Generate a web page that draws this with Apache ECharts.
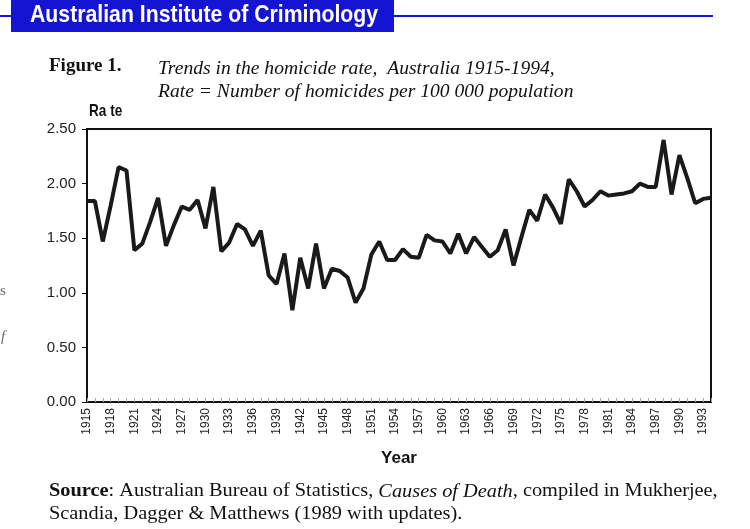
<!DOCTYPE html>
<html>
<head>
<meta charset="utf-8">
<script src="https://cdn.jsdelivr.net/npm/echarts@6/dist/echarts.min.js"></script>
<style>
html, body { margin: 0; padding: 0; background: #fff; }
#chart { width: 750px; height: 529px; }
</style>
</head>
<body>
<div id="chart"></div>
<script>
// years 1915 - 1994
var years = [];
for (var y = 1915; y <= 1994; y++) years.push(String(y));

// homicide rate per 100 000 population
var rates = [
    1.84, 1.84, 1.47, 1.80, 2.15, 2.12, 1.39, 1.45, 1.65, 1.87,
    1.43, 1.62, 1.79, 1.76, 1.85, 1.59, 1.97, 1.38, 1.46, 1.63,
    1.58, 1.43, 1.57, 1.16, 1.08, 1.36, 0.84, 1.32, 1.04, 1.45,
    1.04, 1.22, 1.20, 1.14, 0.91, 1.04, 1.35, 1.47, 1.30, 1.30,
    1.40, 1.33, 1.32, 1.53, 1.48, 1.47, 1.36, 1.54, 1.36, 1.51,
    1.42, 1.33, 1.39, 1.58, 1.25, 1.51, 1.76, 1.66, 1.90, 1.78,
    1.63, 2.04, 1.93, 1.79, 1.85, 1.93, 1.89, 1.90, 1.91, 1.93,
    2.00, 1.97, 1.97, 2.40, 1.90, 2.26, 2.05, 1.82, 1.86, 1.87
];

var yTicks = [0, 0.5, 1, 1.5, 2, 2.5];

var serif = "'Liberation Serif', 'DejaVu Serif', serif";
var sans = "'Liberation Sans', Arial, sans-serif";

var myChart = echarts.init(document.getElementById("chart"));
var option = {
    backgroundColor: "#fff",
    animation: false,
    grid: {
        left: 87,
        right: 39,
        top: 129,
        bottom: 127,
        show: true,
        borderColor: "#111",
        borderWidth: 2
    },
    xAxis: {
        type: "category",
        boundaryGap: false,
        data: years,
        name: "Year",
        nameLocation: "middle",
        nameGap: 48,
        nameTextStyle: {
            fontFamily: sans,
            fontWeight: "bold",
            fontSize: 17,
            color: "#111"
        },
        axisLine: { lineStyle: { color: "#111", width: 2 } },
        axisTick: {
            inside: true,
            interval: 0,
            length: 4,
            lineStyle: { color: "#aaa" }
        },
        axisLabel: {
            interval: 2,
            rotate: 90,
            fontFamily: sans,
            fontSize: 12,
            color: "#222",
            margin: 6
        },
        splitLine: { show: false }
    },
    yAxis: {
        type: "value",
        min: yTicks[0],
        max: yTicks[yTicks.length - 1],
        interval: 0.5,
        axisLine: { show: true, lineStyle: { color: "#111", width: 2 } },
        axisTick: { show: true, length: 5, lineStyle: { color: "#111" } },
        axisLabel: {
            fontFamily: sans,
            fontSize: 15,
            color: "#222",
            margin: 11,
            formatter: function(v) { return v.toFixed(2); }
        },
        splitLine: { show: false }
    },
    series: [{
        name: "Rate",
        type: "line",
        data: rates,
        showSymbol: false,
        lineStyle: { color: "#1a1a1a", width: 4 },
        z: 1
    }],
    graphic: [
        // header bar
        {
            type: "rect",
            shape: { x: 0, y: 15, width: 713, height: 2 },
            style: { fill: "#1414d2" }
        },
        {
            type: "rect",
            shape: { x: 11, y: 0, width: 383, height: 32 },
            style: { fill: "#1414d2" }
        },
        {
            type: "text",
            x: 30,
            y: 3,
            scaleX: 0.885,
            style: {
                text: "Australian Institute of Criminology",
                fill: "#fff",
                font: "bold 24px " + sans,
                verticalAlign: "top"
            }
        },
        // figure title
        {
            type: "text",
            x: 49,
            y: 57,
            style: {
                text: "Figure 1.",
                fill: "#111",
                font: "bold 19px " + serif,
                verticalAlign: "top"
            }
        },
        {
            type: "text",
            x: 158,
            y: 57,
            scaleX: 1.03,
            style: {
                text: "Trends in the homicide rate,  Australia 1915-1994,\nRate = Number of homicides per 100 000 population",
                fill: "#111",
                font: "italic 19px " + serif,
                lineHeight: 23,
                verticalAlign: "top"
            }
        },
        {
            type: "text",
            x: 89,
            y: 103,
            scaleX: 0.8,
            style: {
                text: "Ra te",
                fill: "#111",
                font: "bold 17px " + sans,
                verticalAlign: "top"
            }
        },
        // stray marks at the left edge
        {
            type: "text",
            x: 0,
            y: 284,
            style: { text: "s", fill: "#666", font: "15px " + serif, verticalAlign: "top" }
        },
        {
            type: "text",
            x: 1,
            y: 330,
            style: { text: "f", fill: "#666", font: "italic 15px " + serif, verticalAlign: "top" }
        },
        // source note
        {
            type: "text",
            x: 49,
            y: 480,
            scaleX: 1.07,
            style: {
                text: "{b|Source}: Australian Bureau of Statistics, {i|Causes of Death}, compiled in Mukherjee,\nScandia, Dagger & Matthews (1989 with updates).",
                fill: "#111",
                font: "19px " + serif,
                lineHeight: 23,
                verticalAlign: "top",
                rich: {
                    b: { font: "bold 19px " + serif, fill: "#111" },
                    i: { font: "italic 19px " + serif, fill: "#111" }
                }
            }
        }
    ]
};
myChart.setOption(option);
</script>
</body>
</html>
